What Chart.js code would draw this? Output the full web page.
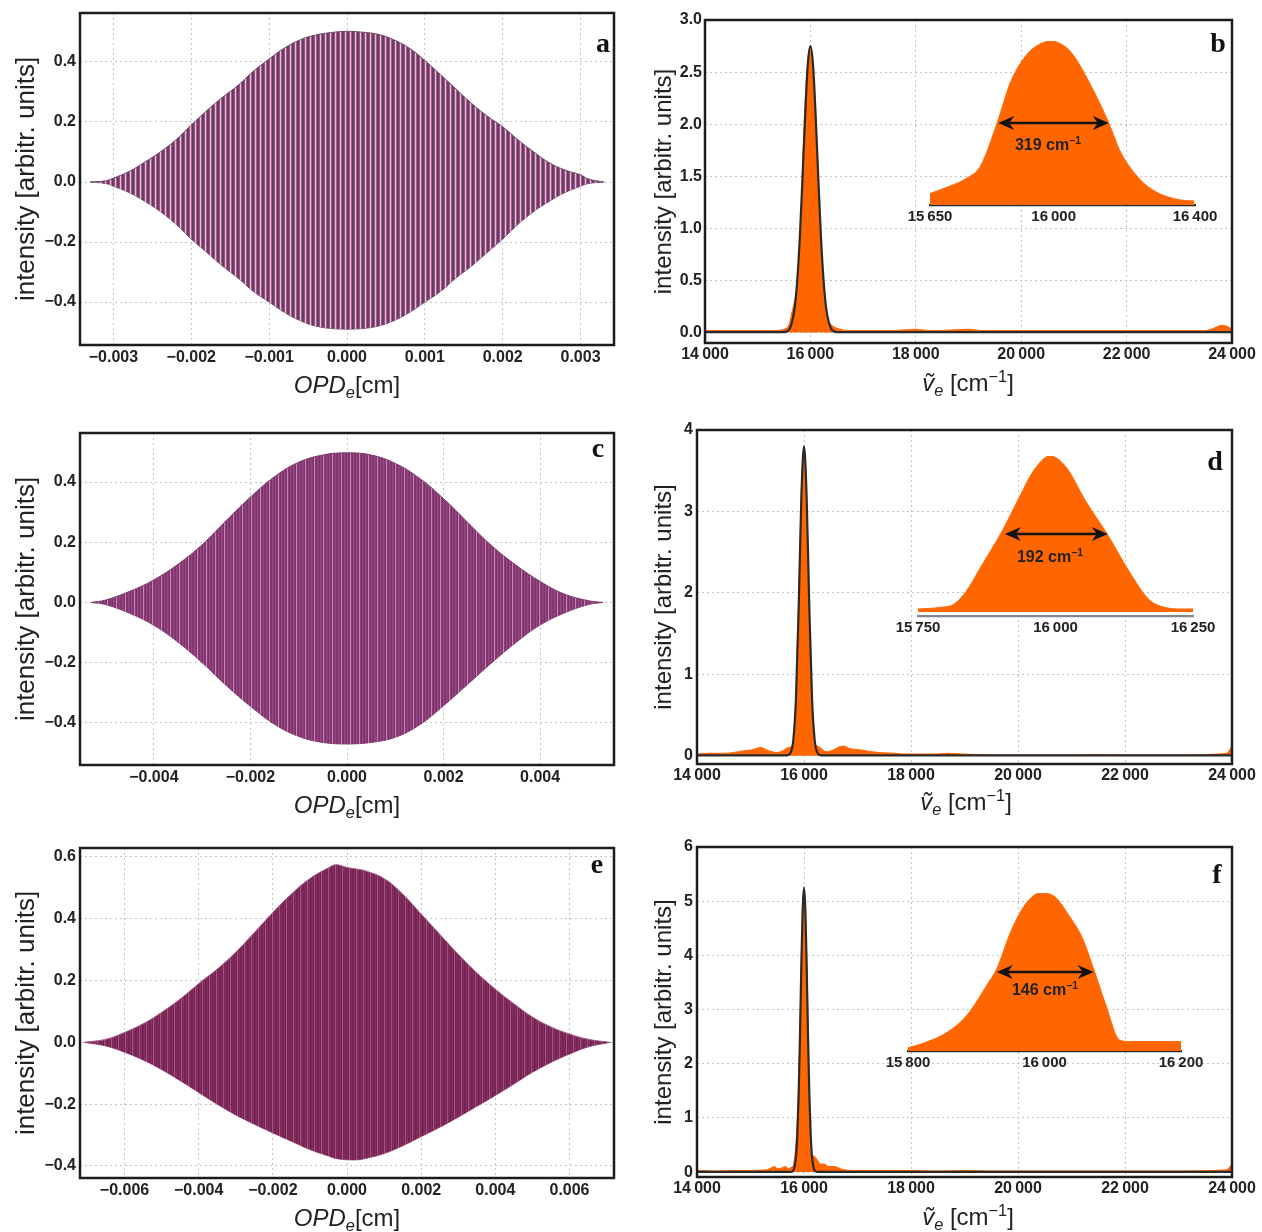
<!DOCTYPE html>
<html><head><meta charset="utf-8">
<script src="https://cdn.jsdelivr.net/npm/chart.js@4.4.1/dist/chart.umd.min.js"></script>
<style>
html,body{margin:0;padding:0;background:#fff;}
body{width:1262px;height:1232px;position:relative;overflow:hidden;font-family:"Liberation Sans",Arial,Helvetica,"DejaVu Sans",sans-serif;color:#222;}
canvas{position:absolute;}
.xt{position:absolute;font-size:24px;line-height:1;white-space:nowrap;transform:translateX(-50%);z-index:5;}
.xt sub{font-size:0.68em;vertical-align:-0.3em;line-height:0;}
.xt sup{font-size:0.68em;vertical-align:0.55em;line-height:0;}
.pl{position:absolute;font-family:"Liberation Serif","Times New Roman",serif;font-weight:bold;font-size:28px;line-height:1;transform:translateX(-50%);z-index:5;color:#111;}
.fw{position:absolute;font-weight:bold;font-size:16px;line-height:1;white-space:nowrap;transform:translate(-50%,-50%);z-index:5;color:#222;}
.fw sup{font-size:0.65em;vertical-align:0.6em;line-height:0;}
</style></head>
<body>
<div class="xt" style="left:347px;top:373px"><i>OPD<sub>e</sub></i>[cm]</div>
<div class="xt" style="left:347px;top:793px"><i>OPD<sub>e</sub></i>[cm]</div>
<div class="xt" style="left:347px;top:1206px"><i>OPD<sub>e</sub></i>[cm]</div>
<div class="xt" style="left:968px;top:371px"><i>ṽ<sub>e</sub></i> [cm<sup>−1</sup>]</div>
<div class="xt" style="left:966px;top:790px"><i>ṽ<sub>e</sub></i> [cm<sup>−1</sup>]</div>
<div class="xt" style="left:968px;top:1205px"><i>ṽ<sub>e</sub></i> [cm<sup>−1</sup>]</div>
<div class="pl" style="left:603px;top:29px">a</div>
<div class="pl" style="left:1218px;top:29px">b</div>
<div class="pl" style="left:598px;top:434px">c</div>
<div class="pl" style="left:1215px;top:447px">d</div>
<div class="pl" style="left:597px;top:850px">e</div>
<div class="pl" style="left:1217px;top:860px">f</div>
<div class="fw" style="left:1048px;top:145px">319 cm<sup>−1</sup></div>
<div class="fw" style="left:1050px;top:557px">192 cm<sup>−1</sup></div>
<div class="fw" style="left:1045px;top:990px">146 cm<sup>−1</sup></div>
<script>
// ---------------- DATA ----------------
// Interferogram envelopes (OPD in cm, intensity arbitr. units)
const aX     = [-0.0033,-0.0031,-0.003,-0.0028,-0.0026,-0.0024,-0.0022,-0.002,-0.0018,-0.0016,-0.0014,-0.0012,-0.001,-0.0008,-0.0006,-0.0004,-0.0002,0,0.0002,0.0004,0.0006,0.0008,0.001,0.0012,0.0014,0.0016,0.0018,0.002,0.0022,0.0024,0.0026,0.0028,0.003,0.0031,0.0033];
const aUpper = [0,0.004,0.013,0.035,0.066,0.1,0.14,0.19,0.238,0.282,0.322,0.37,0.41,0.447,0.474,0.49,0.498,0.502,0.499,0.492,0.474,0.446,0.405,0.358,0.31,0.262,0.22,0.184,0.14,0.1,0.064,0.04,0.024,0.01,0];
const aLower = [0,-0.005,-0.014,-0.035,-0.064,-0.098,-0.14,-0.19,-0.235,-0.28,-0.32,-0.365,-0.4,-0.435,-0.462,-0.48,-0.488,-0.49,-0.488,-0.48,-0.462,-0.435,-0.4,-0.365,-0.32,-0.28,-0.235,-0.19,-0.14,-0.098,-0.064,-0.035,-0.014,-0.005,0];

const cX     = [-0.0053,-0.005,-0.0045,-0.004,-0.0035,-0.003,-0.0025,-0.002,-0.0015,-0.001,-0.0005,0,0.0005,0.001,0.0015,0.002,0.0025,0.003,0.0035,0.004,0.0045,0.005,0.0053];
const cUpper = [0,0.008,0.037,0.075,0.127,0.192,0.272,0.35,0.418,0.466,0.49,0.497,0.49,0.462,0.413,0.345,0.266,0.188,0.124,0.07,0.028,0.006,0];
const cLower = [0,-0.007,-0.036,-0.076,-0.132,-0.2,-0.276,-0.345,-0.405,-0.445,-0.465,-0.47,-0.465,-0.448,-0.407,-0.343,-0.272,-0.2,-0.133,-0.075,-0.035,-0.007,0];

const eX     = [-0.0071,-0.0065,-0.006,-0.0055,-0.005,-0.0045,-0.004,-0.0035,-0.003,-0.0025,-0.002,-0.0015,-0.001,-0.0005,-0.0003,0,0.0003,0.0005,0.001,0.0015,0.002,0.0025,0.003,0.0035,0.004,0.0045,0.005,0.0055,0.006,0.0065,0.0071];
const eUpper = [0,0.01,0.032,0.06,0.097,0.14,0.19,0.237,0.292,0.355,0.42,0.48,0.53,0.565,0.575,0.566,0.56,0.555,0.53,0.48,0.415,0.35,0.285,0.225,0.172,0.125,0.082,0.05,0.027,0.01,0];
const eLower = [0,-0.012,-0.032,-0.057,-0.088,-0.124,-0.162,-0.2,-0.235,-0.265,-0.293,-0.32,-0.347,-0.368,-0.376,-0.38,-0.38,-0.376,-0.36,-0.335,-0.305,-0.275,-0.242,-0.207,-0.172,-0.135,-0.097,-0.065,-0.038,-0.015,0];

// Spectra (wavenumber in cm^-1)
const bX      = [14000,14500,15000,15300,15500,15600,15650,15700,15750,15800,15850,15900,15950,16000,16050,16100,16150,16200,16250,16300,16350,16400,16500,16700,17000,17500,18000,18300,19000,19300,20000,21000,22000,23000,23500,23700,23800,23900,24000];
const bOrange = [0.02,0.02,0.02,0.02,0.03,0.08,0.19,0.3,0.45,0.77,1.54,2.2,2.6,2.75,2.53,2.06,1.46,0.83,0.39,0.19,0.1,0.07,0.04,0.02,0.02,0.02,0.03,0.02,0.03,0.02,0.02,0.02,0.02,0.02,0.02,0.05,0.07,0.06,0.03];
const bFitX   = [14000,15500,15600,15650,15700,15750,15800,15850,15900,15950,16000,16050,16100,16150,16200,16250,16300,16350,16400,16500,24000];
const bFit    = [0.005,0.005,0.03,0.1,0.23,0.5,0.92,1.48,2.08,2.57,2.75,2.57,2.08,1.48,0.92,0.5,0.23,0.1,0.03,0.005,0.005];

const dX      = [14000,14200,14500,14870,15000,15200,15300,15400,15500,15600,15700,15780,15820,15850,15880,15900,15930,15960,15990,16020,16050,16080,16110,16140,16170,16200,16250,16300,16400,16500,16730,16850,17070,17400,17700,18000,18400,18700,19000,19500,20000,21000,21500,22000,23000,23900,24000];
const dOrange = [0.02,0.03,0.03,0.06,0.07,0.1,0.07,0.05,0.04,0.06,0.1,0.12,0.22,0.75,1.4,1.9,2.65,3.4,3.75,3.5,2.8,2.2,1.5,0.85,0.3,0.14,0.12,0.1,0.05,0.06,0.12,0.09,0.07,0.04,0.03,0.02,0.02,0.03,0.02,0.01,0.01,0.01,0.015,0.01,0.01,0.03,0.12];
const dFitX   = [14000,15650,15700,15750,15800,15850,15900,15950,16000,16050,16100,16150,16200,16250,16300,16350,24000];
const dFit    = [0.005,0.005,0.01,0.04,0.19,0.71,1.81,3.16,3.8,3.16,1.81,0.71,0.19,0.04,0.01,0.005,0.005];

const fX      = [14000,14300,14700,15000,15300,15400,15450,15500,15600,15650,15700,15750,15800,15830,15860,15890,15920,15950,15975,15995,16015,16040,16060,16080,16100,16120,16160,16200,16250,16300,16380,16450,16580,16700,16900,17200,18000,18500,19000,19500,20000,21000,22000,23000,23900,24000];
const fOrange = [0.03,0.02,0.03,0.03,0.04,0.08,0.1,0.06,0.08,0.1,0.06,0.08,0.12,0.3,0.65,1.25,2.3,3.9,4.9,5.2,5.1,4.3,3.5,2.2,0.95,0.35,0.3,0.28,0.22,0.15,0.15,0.1,0.1,0.05,0.03,0.03,0.03,0.02,0.03,0.02,0.02,0.02,0.02,0.02,0.04,0.14];
const fFitX   = [14000,15750,15800,15850,15875,15900,15925,15950,15975,16000,16025,16050,16075,16100,16125,16150,16200,16250,24000];
const fFit    = [0.005,0.005,0.03,0.28,0.69,1.43,2.53,3.79,4.84,5.25,4.84,3.79,2.53,1.43,0.69,0.28,0.03,0.005,0.005];

// Insets (relative height, peak = 1)
const bInsetX = [15650,15700,15755,15792,15840,15878,15925,15960,15991,16030,16057,16105,16156,16190,16247,16290,16323,16360,16398];
const bInsetY = [0.07,0.11,0.165,0.235,0.5,0.75,0.92,0.98,1.0,0.97,0.91,0.73,0.5,0.32,0.15,0.08,0.05,0.03,0.025];
const dInsetX = [15750,15790,15815,15837,15866,15903,15932,15961,15990,16019,16055,16094,16134,16170,16199,16230,16250];
const dInsetY = [0.02,0.03,0.05,0.13,0.30,0.52,0.72,0.91,1.0,0.93,0.71,0.50,0.26,0.08,0.03,0.02,0.02];
const fInsetX = [15800,15823,15858,15887,15916,15930,15951,15974,15994,16014,16037,16055,16072,16090,16110,16125,16160,16200];
const fInsetY = [0.02,0.05,0.12,0.23,0.42,0.52,0.76,0.94,1.0,0.98,0.85,0.72,0.52,0.29,0.07,0.06,0.06,0.06];
const bFwhm = [15843,16156], dFwhm = [15908,16095], fFwhm = [15930,16072];

// Tick values
const aXTicks = [-0.003,-0.002,-0.001,0,0.001,0.002,0.003];
const cXTicks = [-0.004,-0.002,0,0.002,0.004];
const eXTicks = [-0.006,-0.004,-0.002,0,0.002,0.004,0.006];
const acYTicks = [-0.4,-0.2,0,0.2,0.4];
const eYTicks = [-0.4,-0.2,0,0.2,0.4,0.6];
const specXTicks = [14000,16000,18000,20000,22000,24000];
const bYTicks = [0,0.5,1,1.5,2,2.5,3];
const dYTicks = [0,1,2,3,4];
const fYTicks = [0,1,2,3,4,5,6];
const bInsetTicks = [15650,16000,16400];
const dInsetTicks = [15750,16000,16250];
const fInsetTicks = [15800,16000,16200];

// ---------------- HELPERS ----------------
const FONT = '"Liberation Sans", Arial, Helvetica, sans-serif';
const MINUS = '\u2212';
const zip = (xs, ys) => xs.map((x, i) => ({x, y: ys[i]}));
const fmtFixed = d => v => (v < -1e-12 ? MINUS : '') + Math.abs(v).toFixed(d);
const fmtInt = v => String(Math.round(v));
const fmtK = v => { const s = String(Math.round(v)); return s.length > 3 ? s.slice(0, -3) + '\u2009' + s.slice(-3) : s; };

function mkCanvas(left, top, w, h) {
  const cv = document.createElement('canvas');
  cv.width = w; cv.height = h;
  cv.style.left = left + 'px'; cv.style.top = top + 'px';
  cv.style.width = w + 'px'; cv.style.height = h + 'px';
  document.body.appendChild(cv);
  return cv;
}
function stripePattern(cols) {
  const pc = document.createElement('canvas');
  pc.width = cols.length; pc.height = 4;
  const g = pc.getContext('2d');
  cols.forEach((c, i) => { g.fillStyle = c; g.fillRect(i, 0, 1, 4); });
  return g.createPattern(pc, 'repeat');
}
const framePlugin = {
  id: 'frame',
  afterDatasetsDraw(chart) {
    const {ctx, chartArea: a} = chart;
    ctx.save(); ctx.strokeStyle = '#1c1c1c'; ctx.lineWidth = 2.5;
    ctx.strokeRect(a.left, a.top, a.right - a.left, a.bottom - a.top);
    ctx.restore();
  }
};
const tickFont = {family: FONT, size: 16, weight: 'bold'};
const insetFont = {family: FONT, size: 15, weight: 'bold'};

function mainChart(o) {
  const w = o.yW + (o.area.r - o.area.l) + o.padR;
  const h = o.padT + (o.area.b - o.area.t) + o.xH;
  const cv = mkCanvas(o.area.l - o.yW, o.area.t - o.padT, w, h);
  return new Chart(cv.getContext('2d'), {
    type: 'line',
    data: {datasets: o.datasets},
    options: {
      responsive: false, animation: false, devicePixelRatio: 1,
      layout: {padding: {top: o.padT, right: o.padR, bottom: 0, left: 0}},
      elements: {point: {radius: 0}},
      plugins: {legend: {display: false}, tooltip: {enabled: false}},
      scales: {
        x: {type: 'linear', min: o.xMin, max: o.xMax,
            afterBuildTicks: s => { s.ticks = o.xTicks.map(v => ({value: v})); },
            afterFit: s => { s.height = o.xH; s.paddingLeft = 0; s.paddingRight = 0; },
            ticks: {autoSkip: false, maxRotation: 0, minRotation: 0, padding: o.xPad, color: '#222', font: tickFont, callback: o.xFmt},
            grid: {color: '#c2c2c2', lineWidth: 1, drawTicks: false},
            border: {display: false, dash: [2, 3]}},
        y: {type: 'linear', min: o.yMin, max: o.yMax,
            afterBuildTicks: s => { s.ticks = o.yTicks.map(v => ({value: v})); },
            afterFit: s => { s.width = o.yW; s.paddingTop = 0; s.paddingBottom = 0; },
            ticks: {autoSkip: false, padding: o.yPad, color: '#222', font: tickFont, callback: o.yFmt},
            grid: {color: '#c2c2c2', lineWidth: 1, drawTicks: false},
            border: {display: false, dash: [2, 3]},
            title: {display: true, text: 'intensity [arbitr. units]', color: '#222',
                    font: {family: FONT, size: o.titleSize}, padding: {top: o.titlePad, bottom: 0}}}
      }
    },
    plugins: [framePlugin]
  });
}

function interfDatasets(xs, up, lo, pattern, edge) {
  return [
    {data: zip(xs, up), fill: '+1', backgroundColor: pattern, borderColor: edge, borderWidth: 1, tension: 0.4},
    {data: zip(xs, lo), fill: false, borderColor: edge, borderWidth: 1, tension: 0.4}
  ];
}
function specDatasets(xs, ys, fx, fy) {
  return [
    {data: zip(fx, fy), fill: false, borderColor: '#2a2a2a', borderWidth: 2.2, cubicInterpolationMode: 'monotone'},
    {data: zip(xs, ys), fill: 'origin', backgroundColor: '#ff6600', borderColor: '#ff6a0a', borderWidth: 1.2, cubicInterpolationMode: 'monotone'}
  ];
}

function arrowPlugin(fw, level) {
  return {
    id: 'fwhmArrow',
    afterDatasetsDraw(ch) {
      const {ctx} = ch; const x = ch.scales.x, y = ch.scales.y;
      const x1 = x.getPixelForValue(fw[0]), x2 = x.getPixelForValue(fw[1]), yy = y.getPixelForValue(level);
      ctx.save(); ctx.strokeStyle = '#111'; ctx.fillStyle = '#111'; ctx.lineWidth = 2.6;
      ctx.beginPath(); ctx.moveTo(x1 + 8, yy); ctx.lineTo(x2 - 8, yy); ctx.stroke();
      const head = (px, dir) => {
        ctx.beginPath(); ctx.moveTo(px, yy); ctx.lineTo(px + dir * 16, yy - 7);
        ctx.lineTo(px + dir * 11, yy); ctx.lineTo(px + dir * 16, yy + 7); ctx.closePath(); ctx.fill();
      };
      head(x1, 1); head(x2, -1);
      ctx.restore();
    }
  };
}

function insetChart(o) {
  const padL = 34, padR = 34, padT = 4, xH = 24;
  const w = padL + (o.area.r - o.area.l) + padR;
  const h = padT + (o.area.b - o.area.t) + xH;
  const cv = mkCanvas(o.area.l - padL, o.area.t - padT, w, h);
  return new Chart(cv.getContext('2d'), {
    type: 'line',
    data: {datasets: [{data: zip(o.xs, o.ys), fill: 'origin', backgroundColor: '#ff6600', borderColor: '#ff6a0a', borderWidth: 1, cubicInterpolationMode: 'monotone'}]},
    options: {
      responsive: false, animation: false, devicePixelRatio: 1,
      layout: {padding: {top: padT, right: padR, bottom: 0, left: padL}},
      elements: {point: {radius: 0}},
      plugins: {legend: {display: false}, tooltip: {enabled: false}},
      scales: {
        x: {type: 'linear', min: o.xMin, max: o.xMax, z: 1,
            afterBuildTicks: s => { s.ticks = o.ticks.map(v => ({value: v})); },
            afterFit: s => { s.height = xH; s.paddingLeft = 0; s.paddingRight = 0; },
            ticks: {autoSkip: false, maxRotation: 0, minRotation: 0, padding: 3, color: '#222', font: insetFont, callback: fmtK},
            grid: {display: false, drawTicks: false},
            border: {display: true, color: o.axisColor, width: 2.2}},
        y: {type: 'linear', display: false, min: o.yMin, max: 1.0}
      }
    },
    plugins: [arrowPlugin(o.fw, 0.5)]
  });
}

// ---------------- CHARTS ----------------
const patA = stripePattern(['#e6bfd9', '#b0598f', '#5c3e60', '#66425f', '#9f4e88']);
const patC = stripePattern(['#8a3c76', '#7b3269', '#974781', '#883a74', '#7b3269', '#9a4a85', '#873a73', '#7d336b', '#c48ab3']);
const patE = stripePattern(['#7b2758', '#843160', '#72204f', '#7b2758', '#843160', '#72204f', '#a65580']);

mainChart({area: {l: 80, r: 614, t: 13, b: 345}, yW: 80, xH: 30, padT: 10, padR: 16,
  xMin: -0.00343, xMax: 0.00343, yMin: -0.543, yMax: 0.563, xTicks: aXTicks, yTicks: acYTicks,
  xFmt: fmtFixed(3), yFmt: fmtFixed(1), xPad: 3, yPad: 4, titlePad: 11, titleSize: 26,
  datasets: interfDatasets(aX, aUpper, aLower, patA, '#6d4a6a')});

mainChart({area: {l: 80, r: 614, t: 433, b: 765}, yW: 80, xH: 30, padT: 10, padR: 16,
  xMin: -0.00553, xMax: 0.00553, yMin: -0.54, yMax: 0.563, xTicks: cXTicks, yTicks: acYTicks,
  xFmt: fmtFixed(3), yFmt: fmtFixed(1), xPad: 3, yPad: 4, titlePad: 11, titleSize: 26,
  datasets: interfDatasets(cX, cUpper, cLower, patC, '#7a3a6c')});

mainChart({area: {l: 80, r: 614, t: 848, b: 1178}, yW: 80, xH: 30, padT: 10, padR: 16,
  xMin: -0.0072, xMax: 0.0072, yMin: -0.439, yMax: 0.629, xTicks: eXTicks, yTicks: eYTicks,
  xFmt: fmtFixed(3), yFmt: fmtFixed(1), xPad: 3, yPad: 4, titlePad: 11, titleSize: 26,
  datasets: interfDatasets(eX, eUpper, eLower, patE, '#a65a8c')});

mainChart({area: {l: 705, r: 1232, t: 20, b: 343}, yW: 60, xH: 30, padT: 10, padR: 30,
  xMin: 14000, xMax: 24000, yMin: -0.1, yMax: 3.0, xTicks: specXTicks, yTicks: bYTicks,
  xFmt: fmtK, yFmt: fmtFixed(1), xPad: 2, yPad: 3, titlePad: 5, titleSize: 24,
  datasets: specDatasets(bX, bOrange, bFitX, bFit)});

mainChart({area: {l: 697, r: 1232, t: 430, b: 764}, yW: 60, xH: 30, padT: 10, padR: 30,
  xMin: 14000, xMax: 24000, yMin: -0.1, yMax: 4.0, xTicks: specXTicks, yTicks: dYTicks,
  xFmt: fmtK, yFmt: fmtInt, xPad: 2, yPad: 4, titlePad: 13, titleSize: 24,
  datasets: specDatasets(dX, dOrange, dFitX, dFit)});

mainChart({area: {l: 697, r: 1232, t: 847, b: 1177}, yW: 60, xH: 30, padT: 10, padR: 30,
  xMin: 14000, xMax: 24000, yMin: -0.09, yMax: 6.0, xTicks: specXTicks, yTicks: fYTicks,
  xFmt: fmtK, yFmt: fmtInt, xPad: 2, yPad: 4, titlePad: 13, titleSize: 24,
  datasets: specDatasets(fX, fOrange, fFitX, fFit)});

insetChart({area: {l: 930, r: 1195, t: 41, b: 205}, xMin: 15650, xMax: 16400, yMin: 0,
  xs: bInsetX, ys: bInsetY, ticks: bInsetTicks, fw: bFwhm, axisColor: '#2a2a2a'});
insetChart({area: {l: 918, r: 1193, t: 456, b: 616}, xMin: 15750, xMax: 16250, yMin: -0.025,
  xs: dInsetX, ys: dInsetY, ticks: dInsetTicks, fw: dFwhm, axisColor: '#7d8796'});
insetChart({area: {l: 908, r: 1181, t: 893, b: 1051}, xMin: 15800, xMax: 16200, yMin: 0,
  xs: fInsetX, ys: fInsetY, ticks: fInsetTicks, fw: fFwhm, axisColor: '#2a2a2a'});
</script>
</body></html>
